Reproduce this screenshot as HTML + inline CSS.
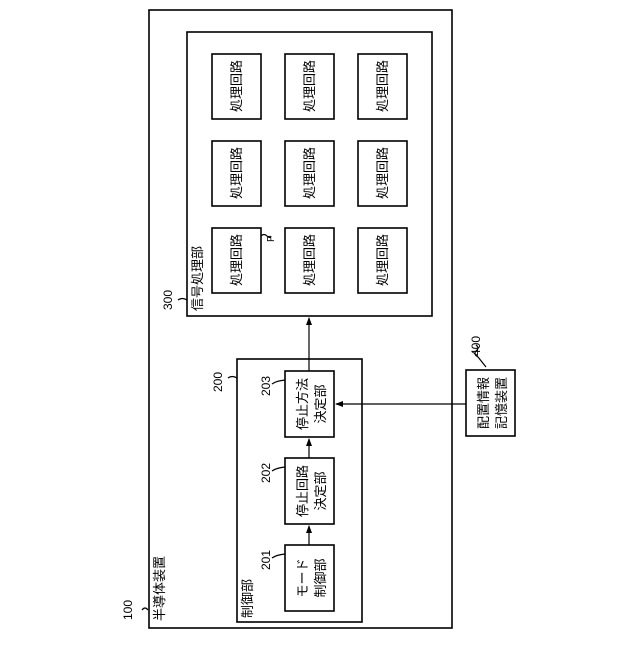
<!DOCTYPE html>
<html><head><meta charset="utf-8"><style>body{margin:0;background:#fff}</style></head><body>
<svg width="640" height="640" viewBox="0 0 640 640" xmlns="http://www.w3.org/2000/svg" font-family="Liberation Sans, Noto Sans CJK JP, sans-serif" font-size="12" fill="#000">
<defs><marker id="a" markerWidth="8" markerHeight="8" refX="7" refY="4" orient="auto" markerUnits="userSpaceOnUse"><path d="M0,1 L8,4 L0,7z" fill="#000"/></marker></defs>
<g fill="none" stroke="#000" stroke-width="1.6">
<rect x="149" y="10" width="303" height="618"/>
<rect x="187" y="32" width="245" height="284"/>
<rect x="237" y="359" width="125" height="263"/>
<rect x="212" y="54" width="49" height="65"/><rect x="285" y="54" width="49" height="65"/><rect x="358" y="54" width="49" height="65"/>
<rect x="212" y="141" width="49" height="65"/><rect x="285" y="141" width="49" height="65"/><rect x="358" y="141" width="49" height="65"/>
<rect x="212" y="228" width="49" height="65"/><rect x="285" y="228" width="49" height="65"/><rect x="358" y="228" width="49" height="65"/>
<rect x="285" y="371" width="49" height="66"/>
<rect x="285" y="458" width="49" height="66"/>
<rect x="285" y="545" width="49" height="66"/>
<rect x="466" y="370" width="49" height="66"/>
</g>
<g stroke="#000" stroke-width="1.2" fill="none">
<line x1="309" y1="371" x2="309" y2="318" marker-end="url(#a)"/>
<line x1="309" y1="545" x2="309" y2="526" marker-end="url(#a)"/>
<line x1="309" y1="458" x2="309" y2="439" marker-end="url(#a)"/>
<line x1="466" y1="404" x2="336" y2="404" marker-end="url(#a)"/>
<path d="M142,610 q3,-4 6,0"/>
<path d="M228,378 q4,-3 9,0"/>
<path d="M178,300 q4,-3 9,0"/>
<path d="M476,345 q4,3 0,6 q-3,3 2,6 l8,10"/>
<path d="M272,558 q4,-3 13,-4"/>
<path d="M272,471 q4,-3 13,-4"/>
<path d="M272,384 q4,-3 13,-4"/>
<path d="M261,236 q3,-3 6,0 q3,3 4,0"/>
</g>
<g text-anchor="middle">
<g font-size="13">
<text transform="translate(241,86) rotate(-90)">処理回路</text>
<text transform="translate(314,86) rotate(-90)">処理回路</text>
<text transform="translate(387,86) rotate(-90)">処理回路</text>
<text transform="translate(241,173) rotate(-90)">処理回路</text>
<text transform="translate(314,173) rotate(-90)">処理回路</text>
<text transform="translate(387,173) rotate(-90)">処理回路</text>
<text transform="translate(241,260) rotate(-90)">処理回路</text>
<text transform="translate(314,260) rotate(-90)">処理回路</text>
<text transform="translate(387,260) rotate(-90)">処理回路</text>
<text transform="translate(307,404) rotate(-90)">停止方法</text>
<text transform="translate(325,404) rotate(-90)">決定部</text>
<text transform="translate(307,491) rotate(-90)">停止回路</text>
<text transform="translate(325,491) rotate(-90)">決定部</text>
<text transform="translate(307,578) rotate(-90)">モード</text>
<text transform="translate(325,578) rotate(-90)">制御部</text>
<text transform="translate(488,403) rotate(-90)">配置情報</text>
<text transform="translate(506,403) rotate(-90)">記憶装置</text>
</g>
</g>
<g font-size="13">
<text transform="translate(164,621) rotate(-90)">半導体装置</text>
<text transform="translate(252,618) rotate(-90)">制御部</text>
<text transform="translate(202,311) rotate(-90)">信号処理部</text>
<text transform="translate(274,242) rotate(-90)" font-size="10">P</text>
</g>
<g font-size="12">
<text transform="translate(132,620) rotate(-90)">100</text>
<text transform="translate(222,392) rotate(-90)">200</text>
<text transform="translate(172,310) rotate(-90)">300</text>
<text transform="translate(480,356) rotate(-90)">400</text>
<text transform="translate(270,570) rotate(-90)">201</text>
<text transform="translate(270,483) rotate(-90)">202</text>
<text transform="translate(270,396) rotate(-90)">203</text>
</g>
</svg>
</body></html>
